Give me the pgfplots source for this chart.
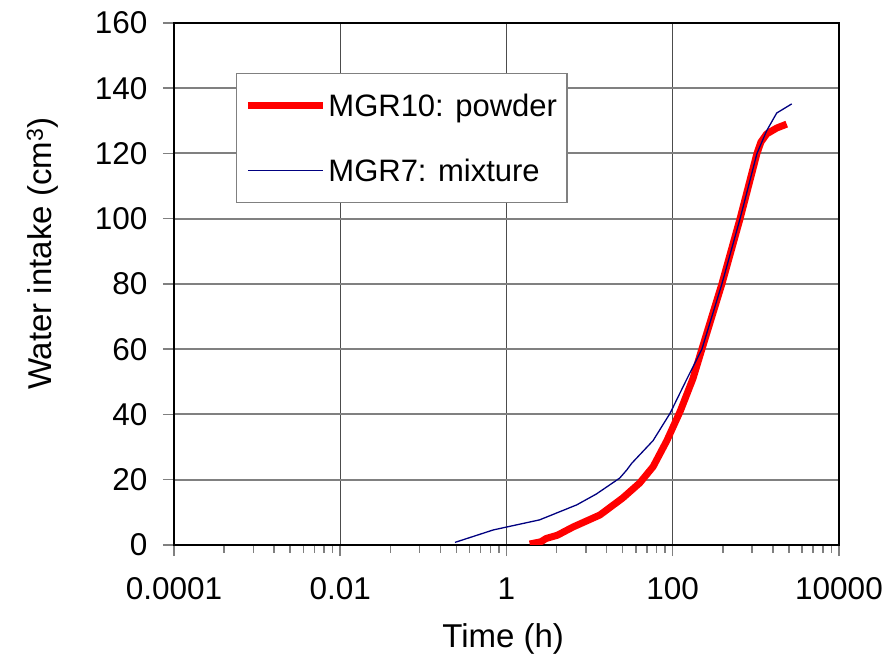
\documentclass[border=0pt]{standalone}
\usepackage{fontspec}
\setmainfont{Liberation Sans}
\usepackage{pgfplots}
\pgfplotsset{compat=1.18}
\definecolor{navyblue}{RGB}{0,0,128}
\definecolor{gridgray}{RGB}{128,128,128}
\begin{document}
\begin{tikzpicture}
\useasboundingbox (-174pt,-110pt) rectangle (715pt,545pt);
\begin{axis}[
  scale only axis,
  width=665pt, height=522pt,
  xmode=log,
  xmin=1e-4, xmax=1e4,
  ymin=0, ymax=160,
  ytick={0,20,...,160},
  xtick={1e-4,1e-2,1,100,1e4},
  xticklabels={0.0001,0.01,1,100,10000},
  minor xtick={4e-4,9e-4,16e-4,25e-4,36e-4,49e-4,64e-4,81e-4,
               4e-2,9e-2,16e-2,25e-2,36e-2,49e-2,64e-2,81e-2,
               4,9,16,25,36,49,64,81,
               400,900,1600,2500,3600,4900,6400,8100},
  xtick pos=bottom, ytick pos=left,
  /pgf/number format/assume math mode=true,
  tick label style={font=\fontsize{31.5}{37}\selectfont},
  label style={font=\fontsize{33}{39}\selectfont},
  tick align=outside,
  major tick length=11pt,
  minor tick length=8pt,
  every tick/.style={gridgray, line width=1.5pt},
  grid=major,
  major x grid style={black!70, line width=1.2pt},
  major y grid style={gridgray, line width=2pt},
  axis line style={black, line width=2.5pt},
  xticklabel style={yshift=-18pt},
  yticklabel style={xshift=-12pt},
  xlabel={Time (h)},
  ylabel={Water intake (cm\textsuperscript{3})},
  xlabel style={at={(rel axis cs:0.495,0)}, anchor=base, yshift=-103pt},
  ylabel style={at={(rel axis cs:0,0.558)}, anchor=base, yshift=122pt},
  legend style={at={(rel axis cs:0.093,0.904)}, anchor=north west,
    draw=gridgray, line width=1.2pt, fill=white,
    font=\fontsize{31}{37}\selectfont,
    inner xsep=8pt, inner ysep=18pt, row sep=37pt,
    nodes={inner sep=2pt}},
  legend cell align=left,
  legend image code/.code={\path (-15pt,0pt) -- (60pt,0pt); \draw[#1] (0pt,0pt) -- (57pt,0pt);},
]
\addplot[red, line width=7pt, line join=round] coordinates {
(1.9,0.3) (2.6,1) (3,2) (4.1,3) (6.3,5.5) (13.3,9.2) (25,14.4) (40,19)
(58,24) (85,32) (123,41) (175,51) (224,60) (390,80) (645,100)
(1030,120) (1150,123.5) (1350,126) (1780,127.8) (2350,129)
};
\addlegendentry{MGR10: powder}
\addplot[navyblue, line width=1.3pt] coordinates {
(0.24,0.8) (0.69,4.6) (1,5.5) (2.5,7.7) (7,12.3) (12,15.6) (23,20.5)
(28,23) (32,25) (58,32) (93,40.4) (146,50.6) (224,60) (390,80) (645,100)
(1030,120) (1350,127) (1780,132.4) (2700,135.2)
};
\addlegendentry{MGR7: mixture}
\end{axis}
\end{tikzpicture}
\end{document}
